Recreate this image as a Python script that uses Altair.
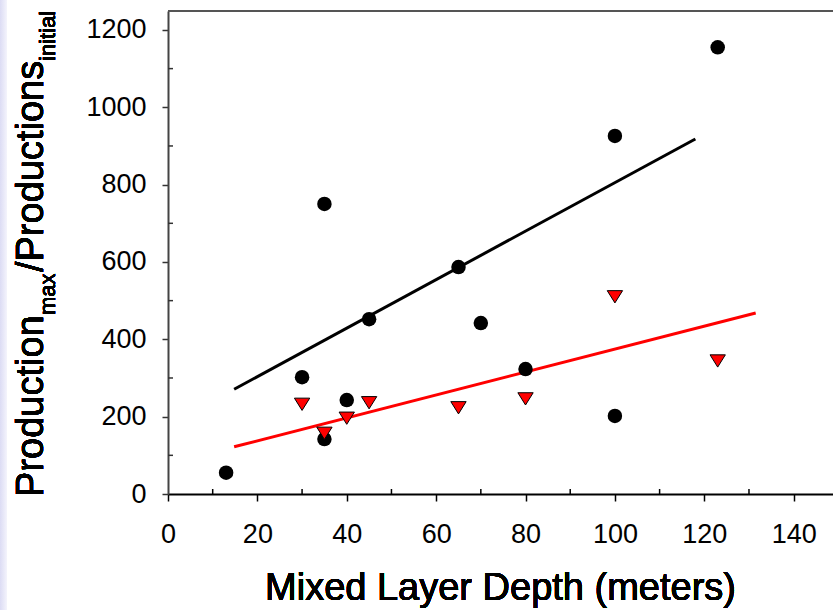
import altair as alt
import pandas as pd

# ---- data ----
circle_x = [13, 30, 35, 35, 40, 45, 65, 70, 80, 100, 100, 123]
circle_y = [55, 302, 750, 142, 243, 452, 587, 442, 323, 926, 202, 1155]

tri_x = [30, 35, 40, 45, 65, 80, 100, 123]
tri_y = [232, 157, 196, 236, 223, 246, 510, 344]

black_line_x = [14.8, 118]
black_line_y = [271, 918]
red_line_x = [14.8, 131.5]
red_line_y = [122, 468]

x_major = [0, 20, 40, 60, 80, 100, 120, 140]
y_major = [0, 200, 400, 600, 800, 1000, 1200]
x_minor = [10, 30, 50, 70, 90, 110, 130]
y_minor = [100, 300, 500, 700, 900, 1100]

x_title = "Mixed Layer Depth (meters)"
y_title_parts = ["Production", "max", "/Productions", "initial"]

# ---- layout ----
W, H = 665, 483
FONT = "Liberation Sans"
X_DOMAIN = [0, 148.8]
Y_DOMAIN = [0, 1249]

circles = pd.DataFrame({"x": circle_x, "y": circle_y})
tris = pd.DataFrame({"x": tri_x, "y": tri_y})
bline = pd.DataFrame({"x": black_line_x, "y": black_line_y})
rline = pd.DataFrame({"x": red_line_x, "y": red_line_y})
xmin = pd.DataFrame({"x": x_minor})
ymin = pd.DataFrame({"y": y_minor})

xscale = alt.Scale(domain=X_DOMAIN, nice=False, zero=False)
yscale = alt.Scale(domain=Y_DOMAIN, nice=False, zero=False)

xaxis = alt.Axis(values=x_major, format="d", title=None, grid=False, labelFont=FONT, labelFontSize=27,
                 labelColor="black", labelPadding=20, labelFlush=False, labelOverlap=False,
                 tickSize=7, tickWidth=1.5, tickColor="black",
                 domainColor="black", domainWidth=2)
yaxis = alt.Axis(values=y_major, format="d", title=None, grid=False, labelFont=FONT, labelFontSize=27,
                 labelColor="black", labelPadding=16, labelFlush=False, labelOverlap=False,
                 tickSize=6, tickWidth=1.5, tickColor="#333",
                 domainColor="#444", domainWidth=2)

pts = alt.Chart(circles).mark_point(shape="circle", filled=True, size=210, color="black", opacity=1).encode(
    x=alt.X("x:Q", scale=xscale, axis=xaxis),
    y=alt.Y("y:Q", scale=yscale, axis=yaxis),
)

tri_shape = "M-1,-0.8L1,-0.8L0,0.8Z"
trimarks = alt.Chart(tris).mark_point(shape=tri_shape, filled=True, size=235, fill="#ff0000",
                                      stroke="black", strokeWidth=1, opacity=1).encode(
    x=alt.X("x:Q", scale=xscale), y=alt.Y("y:Q", scale=yscale))

bl = alt.Chart(bline).mark_line(color="black", strokeWidth=3).encode(
    x=alt.X("x:Q", scale=xscale), y=alt.Y("y:Q", scale=yscale))
rl = alt.Chart(rline).mark_line(color="#ff0000", strokeWidth=3).encode(
    x=alt.X("x:Q", scale=xscale), y=alt.Y("y:Q", scale=yscale))

xminor = alt.Chart(xmin).mark_rule(color="black", strokeWidth=1.5).encode(
    x=alt.X("x:Q", scale=xscale), y=alt.value(H), y2=alt.value(H - 5))
yminor = alt.Chart(ymin).mark_rule(color="#333", strokeWidth=1.5).encode(
    y=alt.Y("y:Q", scale=yscale), x=alt.value(0), x2=alt.value(5))

top_line = alt.Chart(circles).mark_rule(color="#555", strokeWidth=2).encode(
    x=alt.value(0), x2=alt.value(W), y=alt.value(0))

strip = alt.Chart(circles).mark_rect(
    fill=alt.LinearGradient(gradient="linear", x1=0, x2=1, y1=0, y2=0,
                            stops=[alt.GradientStop(color="#dcdcf4", offset=0),
                                   alt.GradientStop(color="#f4f4fc", offset=1)])
).encode(x=alt.value(-168), x2=alt.value(-161), y=alt.value(-11), y2=alt.value(H + 116))

xt = alt.Chart(circles).mark_text(font=FONT, fontSize=38, align="center", baseline="alphabetic",
                                  color="black").encode(
    x=alt.value(W / 2), y=alt.value(589), text=alt.value(x_title))

def ypart(txt, size, xb, ys):
    return alt.Chart(circles).mark_text(font=FONT, fontSize=size, align="left", baseline="alphabetic",
                                        angle=270, color="black").encode(
        x=alt.value(xb), y=alt.value(ys), text=alt.value(txt))

yt = (ypart(y_title_parts[0], 38, -125, 486) + ypart(y_title_parts[1], 22, -113, 304) +
      ypart(y_title_parts[2], 38, -125, 261) + ypart(y_title_parts[3], 22, -113, 50))

chart = alt.layer(strip, top_line, xminor, yminor, bl, rl, pts, trimarks, xt, yt).properties(
    width=W, height=H,
    autosize=alt.AutoSizeParams(type="none"),
    padding={"left": 168, "top": 11, "right": 0, "bottom": 116},
).configure_view(stroke=None).configure(background="white")

chart.save("out.html", embed_options={"renderer": "svg", "actions": False})
